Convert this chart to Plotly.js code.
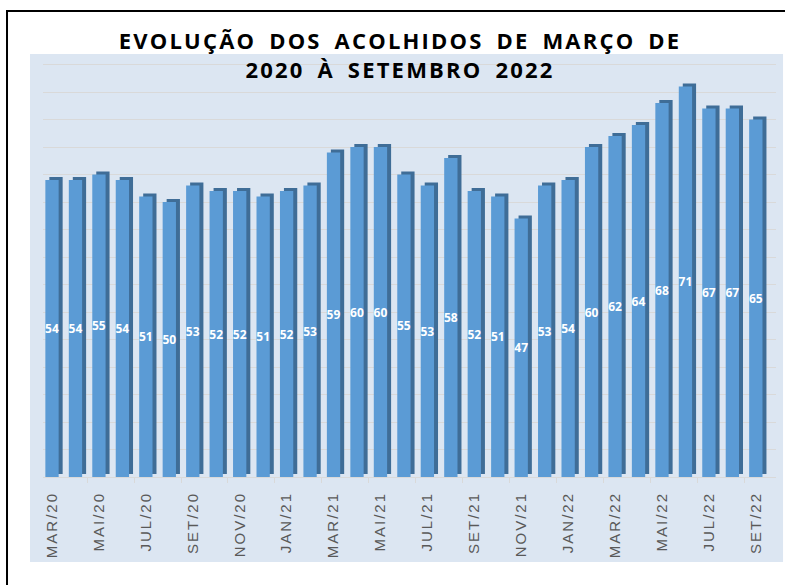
<!DOCTYPE html>
<html><head><meta charset="utf-8">
<script src="https://cdn.plot.ly/plotly-3.0.1.min.js"></script>
<style>
html,body{margin:0;padding:0;background:#fff;}
#chart{width:785px;height:585px;}
.gtitle{letter-spacing:2.2px;word-spacing:5px;}
.xtick text{letter-spacing:2px !important;}
</style></head><body><div id="chart"></div>
<script>
const months = ["MAR/20","ABR/20","MAI/20","JUN/20","JUL/20","AGO/20","SET/20","OUT/20","NOV/20","DEZ/20",
  "JAN/21","FEV/21","MAR/21","ABR/21","MAI/21","JUN/21","JUL/21","AGO/21","SET/21","OUT/21","NOV/21","DEZ/21",
  "JAN/22","FEV/22","MAR/22","ABR/22","MAI/22","JUN/22","JUL/22","AGO/22","SET/22"];
const acolhidos = [54,54,55,54,51,50,53,52,52,51,
  52,53,59,60,60,55,53,58,52,51,47,53,
  54,60,62,64,68,71,67,67,65];
const tickLabels = ["MAR/20","MAI/20","JUL/20","SET/20","NOV/20","JAN/21","MAR/21","MAI/21",
  "JUL/21","SET/21","NOV/21","JAN/22","MAR/22","MAI/22","JUL/22","SET/22"];
const titleText = "EVOLUÇÃO DOS ACOLHIDOS DE MARÇO DE<br>2020 À SETEMBRO 2022";

const xIdx = months.map((m, i) => i);
const tickVals = tickLabels.map(l => months.indexOf(l));

const barW = 0.567;
const side = {
  type: 'bar', x: xIdx, y: acolhidos, base: 0.55,
  width: barW, offset: -barW/2 + 0.17,
  marker: {color: '#3f6d97'}, hoverinfo: 'skip', showlegend: false
};
const front = {
  type: 'bar', x: xIdx, y: acolhidos,
  width: barW, offset: -barW/2,
  marker: {color: '#5b9bd5'},
  text: acolhidos.map(String), textposition: 'inside', insidetextanchor: 'middle',
  constraintext: 'none',
  textfont: {family: 'Open Sans', size: 12, color: '#ffffff', weight: 'bold'},
  hovertext: months, showlegend: false
};

const layout = {
  width: 785, height: 585,
  margin: {l: 43, r: 9, t: 59, b: 108},
  paper_bgcolor: '#ffffff', plot_bgcolor: 'rgba(0,0,0,0)',
  barmode: 'overlay',
  title: {
    text: titleText, x: 0.5096, xanchor: 'center', xref: 'container',
    y: 1 - 49/585, yanchor: 'top', yref: 'container',
    font: {family: 'Open Sans', size: 22, color: '#000000', weight: 'bold'}
  },
  xaxis: {
    range: [-0.384, 30.86], tickmode: 'array', tickvals: tickVals, ticktext: tickLabels,
    tickangle: -90, ticks: '', ticklabelstandoff: 8,
    tickfont: {family: 'Liberation Sans', size: 15, color: '#595959'},
    showgrid: false, zeroline: false, showline: true, linecolor: '#d9d9d9', linewidth: 1,
    minor: {ticks: 'outside', tick0: -0.5, dtick: 2, ticklen: 5, tickcolor: '#d9d9d9', tickwidth: 1, showgrid: false}
  },
  yaxis: {
    range: [0, 76], tick0: 0, dtick: 5, showticklabels: false, ticks: '',
    showgrid: true, gridcolor: '#d9d9d9', gridwidth: 1, zeroline: false, showline: false
  },
  shapes: [
    {type: 'rect', xref: 'paper', yref: 'paper', x0: -0.0177, x1: 1.0096, y0: -0.2033, y1: 1.012,
     fillcolor: '#dce6f2', line: {width: 0}, layer: 'below'},
    {type: 'rect', xref: 'paper', yref: 'paper', x0: -0.0491, x1: 1.2, y0: -0.5, y1: 1.1148,
     fillcolor: 'rgba(0,0,0,0)', line: {color: '#000000', width: 2}, layer: 'above'}
  ]
};

Plotly.newPlot('chart', [side, front], layout, {displayModeBar: false, staticPlot: true});
</script></body></html>
